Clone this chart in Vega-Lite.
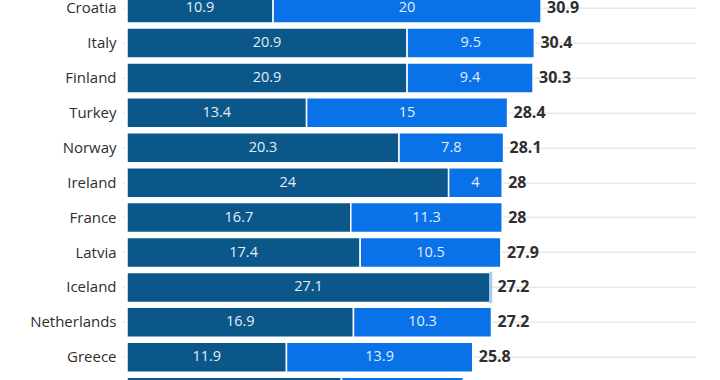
{
  "$schema": "https://vega.github.io/schema/vega-lite/v6.json",
  "width": 569,
  "height": 419,
  "autosize": "none",
  "padding": {"left": 127, "top": -9.36, "right": 0, "bottom": 0},
  "background": "white",
  "config": {"view": {"stroke": null}, "font": "Open Sans"},
  "data": {"values": [
    {"country": "Croatia", "rank": 1, "seg": "a", "value": 10.9},
    {"country": "Croatia", "rank": 1, "seg": "b", "value": 20},
    {"country": "Italy", "rank": 2, "seg": "a", "value": 20.9},
    {"country": "Italy", "rank": 2, "seg": "b", "value": 9.5},
    {"country": "Finland", "rank": 3, "seg": "a", "value": 20.9},
    {"country": "Finland", "rank": 3, "seg": "b", "value": 9.4},
    {"country": "Turkey", "rank": 4, "seg": "a", "value": 13.4},
    {"country": "Turkey", "rank": 4, "seg": "b", "value": 15},
    {"country": "Norway", "rank": 5, "seg": "a", "value": 20.3},
    {"country": "Norway", "rank": 5, "seg": "b", "value": 7.8},
    {"country": "Ireland", "rank": 6, "seg": "a", "value": 24},
    {"country": "Ireland", "rank": 6, "seg": "b", "value": 4},
    {"country": "France", "rank": 7, "seg": "a", "value": 16.7},
    {"country": "France", "rank": 7, "seg": "b", "value": 11.3},
    {"country": "Latvia", "rank": 8, "seg": "a", "value": 17.4},
    {"country": "Latvia", "rank": 8, "seg": "b", "value": 10.5},
    {"country": "Iceland", "rank": 9, "seg": "a", "value": 27.1},
    {"country": "Iceland", "rank": 9, "seg": "c", "value": 0.1},
    {"country": "Netherlands", "rank": 10, "seg": "a", "value": 16.9},
    {"country": "Netherlands", "rank": 10, "seg": "b", "value": 10.3},
    {"country": "Greece", "rank": 11, "seg": "a", "value": 11.9},
    {"country": "Greece", "rank": 11, "seg": "b", "value": 13.9},
    {"country": "Spain", "rank": 12, "seg": "a", "value": 16.0},
    {"country": "Spain", "rank": 12, "seg": "b", "value": 9.1}
  ]},
  "transform": [
    {"stack": "value", "groupby": ["country"], "sort": [{"field": "seg", "order": "ascending"}], "as": ["v0", "v1"]},
    {"calculate": "(datum.v0 + datum.v1) / 2", "as": "mid"}
  ],
  "encoding": {
    "y": {
      "field": "country",
      "type": "nominal",
      "sort": {"field": "rank", "op": "min", "order": "ascending"},
      "scale": {"paddingInner": 0.14, "paddingOuter": 0.07},
      "axis": {
        "title": null,
        "domain": false,
        "labelFontSize": 15,
        "labelColor": "#2e2e2e",
        "labelPadding": 6,
        "tickSize": 5,
        "tickColor": "#e8e8e8",
        "grid": true,
        "gridColor": "#e8e8e8",
        "gridWidth": 1.5
      }
    }
  },
  "layer": [
    {
      "mark": {"type": "bar", "strokeWidth": 1.5},
      "encoding": {
        "x": {"field": "v0", "type": "quantitative", "scale": {"domain": [0, 42.46], "nice": false}, "axis": null},
        "x2": {"field": "v1"},
        "color": {
          "field": "seg",
          "type": "nominal",
          "scale": {"domain": ["a", "b", "c"], "range": ["#0b5789", "#0a72e9", "#a9c9f0"]},
          "legend": null
        },
        "stroke": {
          "field": "seg",
          "type": "nominal",
          "scale": {"domain": ["a", "b", "c"], "range": ["#ffffff", "#ffffff", "#a9c9f0"]},
          "legend": null
        }
      }
    },
    {
      "transform": [{"filter": "datum.value >= 1"}],
      "mark": {"type": "text", "align": "center", "baseline": "middle", "fontSize": 14.5, "color": "#e4edf7"},
      "encoding": {
        "x": {"field": "mid", "type": "quantitative"},
        "text": {"field": "value", "type": "quantitative", "format": "~r"}
      }
    },
    {
      "transform": [{"aggregate": [{"op": "sum", "field": "value", "as": "total"}], "groupby": ["country", "rank"]}],
      "mark": {"type": "text", "align": "left", "baseline": "middle", "dx": 6, "fontSize": 16, "fontWeight": "bold", "color": "#2e2e2e"},
      "encoding": {
        "x": {"field": "total", "type": "quantitative"},
        "text": {"field": "total", "type": "quantitative", "format": ".1~f"}
      }
    }
  ]
}
